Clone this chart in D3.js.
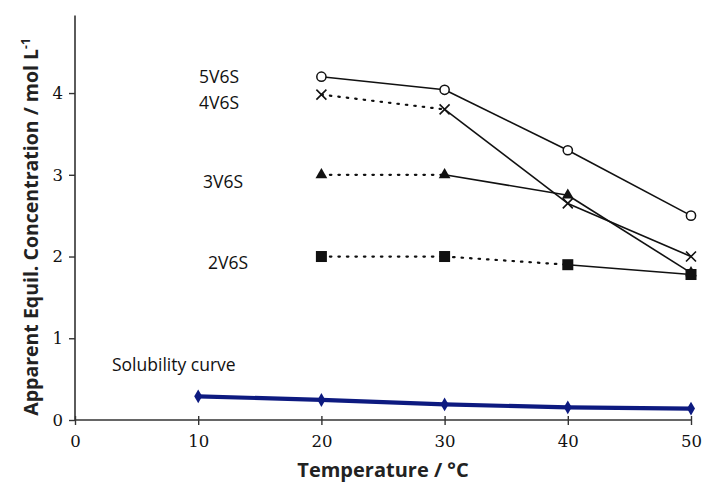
<!DOCTYPE html>
<html>
<head>
<meta charset="utf-8">
<script src="https://cdn.jsdelivr.net/npm/d3@7"></script>
<style>
  html, body { margin: 0; padding: 0; background: #fff; }
  svg { display: block; }
</style>
</head>
<body>
<svg id="chart" width="703" height="484"></svg>
<script>
// ---- Data ----
const temps = [20, 30, 40, 50];
const v5V6S = [4.20, 4.04, 3.30, 2.50];
const v4V6S = [3.98, 3.80, 2.65, 2.00];
const v3V6S = [3.00, 3.00, 2.75, 1.80];
const v2V6S = [2.00, 2.00, 1.90, 1.78];
// segment style between consecutive points: "s" solid, "d" dotted
const seg5V6S = ["s", "s", "s"];
const seg4V6S = ["d", "s", "s"];
const seg3V6S = ["d", "s", "s"];
const seg2V6S = ["d", "d", "s"];
const solTemps = [10, 20, 30, 40, 50];
const solValues = [0.29, 0.245, 0.19, 0.155, 0.14];
const xTicks = [0, 10, 20, 30, 40, 50];
const yTicks = [0, 1, 2, 3, 4];
const seriesNames = ["5V6S", "4V6S", "3V6S", "2V6S"];
const solName = "Solubility curve";
const xTitle = "Temperature / \u00B0C";

const svg = d3.select("#chart");
const x = d3.scaleLinear().domain([0, 50]).range([75, 691]);
const y = d3.scaleLinear().domain([0, 4.95]).range([420, 15.4]);

const axisColor = "#333";
const tickFont = "'DejaVu Serif', serif";
const labelFont = "'Open Sans', sans-serif";

// axes
const gx = svg.append("g").attr("transform", `translate(0,${y(0)})`)
  .call(d3.axisBottom(x).tickValues(xTicks).tickSize(5).tickPadding(10).tickFormat(d3.format("d")));
gx.select(".domain").attr("stroke", axisColor).attr("stroke-width", 1.6);
gx.selectAll(".tick line").attr("stroke", axisColor).attr("stroke-width", 1.4).attr("y1", -4);
gx.selectAll(".tick text").attr("font-family", tickFont).attr("font-size", 16.5).attr("fill", "#111");
gx.select(".domain").attr("d", `M${x(0)},0H${x(50)}`);

const gy = svg.append("g").attr("transform", `translate(${x(0)},0)`)
  .call(d3.axisLeft(y).tickValues(yTicks).tickSize(6).tickPadding(6).tickFormat(d3.format("d")));
gy.select(".domain").attr("stroke", axisColor).attr("stroke-width", 1.6).attr("d", `M0,${y(0)}V${y(4.95)}`);
gy.selectAll(".tick line").attr("stroke", axisColor).attr("stroke-width", 1.4);
gy.selectAll(".tick text").attr("font-family", tickFont).attr("font-size", 16.5).attr("fill", "#111");

// axis titles
svg.append("text").attr("x", 383).attr("y", 477).attr("text-anchor", "middle")
  .attr("font-family", labelFont).attr("font-weight", "bold").attr("font-size", 20).attr("fill", "#222")
  .text(xTitle);
const yt = svg.append("text").attr("transform", `translate(38,${227}) rotate(-90)`).attr("text-anchor", "middle")
  .attr("font-family", labelFont).attr("font-weight", "bold").attr("font-size", 19.5).attr("fill", "#222");
yt.append("tspan").text("Apparent Equil. Concentration / mol L");
yt.append("tspan").attr("dy", -8).attr("font-size", 12).text("-1");

// series lines
const series = [
  { name: seriesNames[0], v: v5V6S, seg: seg5V6S, m: "circle" },
  { name: seriesNames[1], v: v4V6S, seg: seg4V6S, m: "x" },
  { name: seriesNames[2], v: v3V6S, seg: seg3V6S, m: "triangle" },
  { name: seriesNames[3], v: v2V6S, seg: seg2V6S, m: "square" }
];
const lg = svg.append("g");
series.forEach(s => {
  for (let i = 0; i < s.v.length - 1; i++) {
    lg.append("line")
      .attr("x1", x(temps[i])).attr("y1", y(s.v[i]))
      .attr("x2", x(temps[i + 1])).attr("y2", y(s.v[i + 1]))
      .attr("stroke", "#111").attr("stroke-width", s.seg[i] === "d" ? 2.2 : 1.6)
      .attr("stroke-dasharray", s.seg[i] === "d" ? "1.5,7" : null)
      .attr("stroke-linecap", s.seg[i] === "d" ? "round" : "butt");
  }
});

// markers
const mg = svg.append("g");
series.forEach(s => {
  temps.forEach((t, i) => {
    const cx = x(t), cy = y(s.v[i]);
    if (s.m === "circle") {
      mg.append("circle").attr("cx", cx).attr("cy", cy).attr("r", 4.6)
        .attr("fill", "#fff").attr("stroke", "#111").attr("stroke-width", 1.5);
    } else if (s.m === "x") {
      mg.append("path").attr("d", `M${cx-5},${cy-5}L${cx+5},${cy+5}M${cx-5},${cy+5}L${cx+5},${cy-5}`)
        .attr("stroke", "#111").attr("stroke-width", 1.6);
    } else if (s.m === "triangle") {
      mg.append("path").attr("d", d3.symbol().type(d3.symbolTriangle).size(60)())
        .attr("transform", `translate(${cx},${cy})`).attr("fill", "#111");
    } else {
      mg.append("rect").attr("x", cx - 5.5).attr("y", cy - 5.5).attr("width", 11).attr("height", 11)
        .attr("fill", "#111");
    }
  });
});

// solubility curve
const solLine = d3.line().x((d, i) => x(solTemps[i])).y(d => y(d));
svg.append("path").datum(solValues).attr("d", solLine)
  .attr("fill", "none").attr("stroke", "#0d1a80").attr("stroke-width", 4.2);
svg.append("g").selectAll("path").data(solValues).join("path")
  .attr("d", d3.symbol().type(d3.symbolDiamond).size(55)())
  .attr("transform", (d, i) => `translate(${x(solTemps[i])},${y(d)})`)
  .attr("fill", "#0d1a80");

// series labels
const labels = [
  { t: seriesNames[0], x: 199, y: 83 },
  { t: seriesNames[1], x: 199, y: 109 },
  { t: seriesNames[2], x: 203, y: 188 },
  { t: seriesNames[3], x: 208, y: 269 },
  { t: solName, x: 112, y: 371 }
];
svg.append("g").selectAll("text").data(labels).join("text")
  .attr("x", d => d.x).attr("y", d => d.y)
  .attr("font-family", labelFont).attr("font-size", 17.5).attr("fill", "#111")
  .text(d => d.t);
</script>
</body>
</html>
